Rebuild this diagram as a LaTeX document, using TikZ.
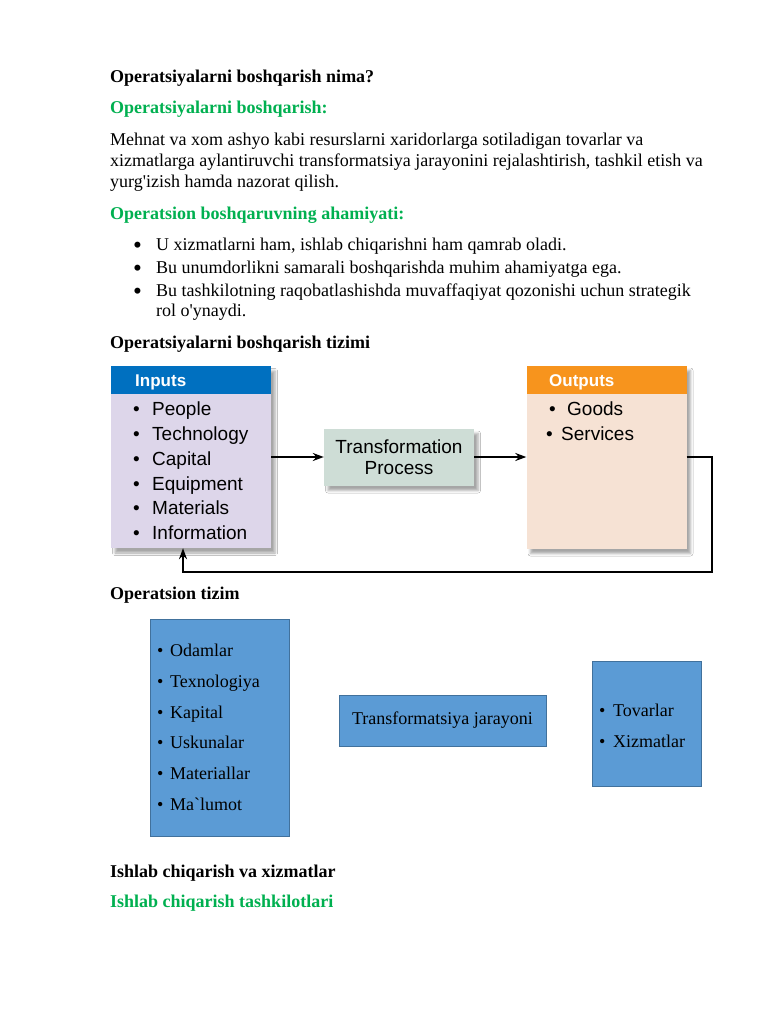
\documentclass[tikz,border=0pt]{standalone}
\usepackage{fontspec}
\usepackage{graphicx}
\setmainfont{Liberation Serif}
\newfontfamily\diagfont{Liberation Sans}
\usetikzlibrary{positioning,shadows.blur,arrows.meta}
\definecolor{headgreen}{HTML}{00B050}
\definecolor{inblue}{RGB}{0,112,192}
\definecolor{inlilac}{RGB}{221,214,234}
\definecolor{procgray}{RGB}{206,221,214}
\definecolor{outorange}{RGB}{247,148,29}
\definecolor{outpeach}{RGB}{246,226,212}
\definecolor{sysblue}{HTML}{5B9BD5}
\definecolor{sysedge}{HTML}{41719C}
\newcommand{\listdot}{\makebox[23pt][l]{\raisebox{-3.5pt}{\scalebox{1.4}{\textbullet}}}}

\begin{document}
\begin{tikzpicture}[
        x=1pt, y=-1pt,
        txt/.style={anchor=base west, inner sep=0pt, font=\fontsize{18}{21}\selectfont},
        head/.style={txt, font=\fontsize{18}{21}\selectfont\bfseries},
        greenhead/.style={head, text=headgreen},
        panel/.style={rectangle, inner sep=0pt, minimum width=160pt, blur shadow={shadow xshift=4pt, shadow yshift=-5pt, shadow blur radius=2.5pt, shadow opacity=35}},
        panelhead/.style={rectangle, inner sep=0pt, minimum width=160pt, minimum height=28pt, anchor=north},
        headtext/.style={anchor=base west, inner sep=0pt, text=white, font=\diagfont\fontsize{17}{20}\selectfont\bfseries},
        item/.style={anchor=base west, inner sep=0pt, font=\diagfont\fontsize{19}{21}\selectfont},
        sysbox/.style={rectangle, inner sep=0pt, fill=sysblue, draw=sysedge, line width=0.8pt},
        sysitem/.style={anchor=base west, inner sep=0pt, font=\fontsize{18}{21}\selectfont},
        arrow/.style={line width=2.2pt, -{Stealth[length=11pt, width=8pt]}}
    ]
        \fill[white] (0,0) rectangle (768,1024);
        \useasboundingbox (0,0) rectangle (768,1024);

        % Text above
        \node (title) [head] at (110,83) {Operatsiyalarni boshqarish nima?};
        \node (defhead) [greenhead] at (110,114) {Operatsiyalarni boshqarish:};
        \node (def1) [txt] at (110,146) {Mehnat va xom ashyo kabi resurslarni xaridorlarga sotiladigan tovarlar va};
        \node (def2) [txt] at (110,167) {xizmatlarga aylantiruvchi transformatsiya jarayonini rejalashtirish, tashkil etish va};
        \node (def3) [txt] at (110,188) {yurg\textquotesingle izish hamda nazorat qilish.};
        \node (sighead) [greenhead] at (110,219) {Operatsion boshqaruvning ahamiyati:};
        \node (sig1) [txt] at (133,250) {\listdot U xizmatlarni ham, ishlab chiqarishni ham qamrab oladi.};
        \node (sig2) [txt] at (133,273) {\listdot Bu unumdorlikni samarali boshqarishda muhim ahamiyatga ega.};
        \node (sig3) [txt] at (133,296) {\listdot Bu tashkilotning raqobatlashishda muvaffaqiyat qozonishi uchun strategik};
        \node (sig4) [txt] at (156,316) {rol o\textquotesingle ynaydi.};
        \node (syshead) [head] at (110,348) {Operatsiyalarni boshqarish tizimi};

        % Inputs
        \node (inbody) [panel, fill=inlilac, minimum height=182pt] at (191,457) {};
        \node (inhead) [panelhead, fill=inblue] at (inbody.north) {};
        \node (intitle) [headtext] at (135,386) {Inputs};
        \node (in1) [item] at (133,415) {\makebox[19pt][l]{\textbullet}People};
        \node (in2) [item] at (133,440) {\makebox[19pt][l]{\textbullet}Technology};
        \node (in3) [item] at (133,465) {\makebox[19pt][l]{\textbullet}Capital};
        \node (in4) [item] at (133,490) {\makebox[19pt][l]{\textbullet}Equipment};
        \node (in5) [item] at (133,514) {\makebox[19pt][l]{\textbullet}Materials};
        \node (in6) [item] at (133,539) {\makebox[19pt][l]{\textbullet}Information};

        % Transformation
        \node (trans) [panel, fill=procgray, minimum width=150pt, minimum height=57pt, align=center, font=\diagfont\fontsize{19}{21}\selectfont] at (399,457) {Transformation\\Process};

        % Outputs
        \node (outbody) [panel, fill=outpeach, minimum height=183pt] at (606.5,457) {};
        \node (outhead) [panelhead, fill=outorange] at (outbody.north) {};
        \node (outtitle) [headtext] at (549,386) {Outputs};
        \node (out1) [item] at (549,415) {\makebox[18pt][l]{\textbullet}Goods};
        \node (out2) [item] at (546,440) {\makebox[15pt][l]{\textbullet}Services};

        % Connections
        \coordinate (fbr) at (712,572);
        \coordinate (fbl) at (183,572);
        \draw[arrow] (inbody.east) -- (trans.west);
        \draw[arrow] (trans.east) -- (outbody.west);
        \draw[arrow] (outbody.east) -| (fbr) -- (fbl) -- (fbl |- inbody.south);

        \node (tizim) [head] at (110,599) {Operatsion tizim};

        % Operatsion tizim
        \node (odam) [sysbox, minimum width=139pt, minimum height=217pt] at (219.5,727.5) {};
        \node (o1) [sysitem] at (157,656) {\makebox[13pt][l]{\textbullet}Odamlar};
        \node (o2) [sysitem] at (157,687) {\makebox[13pt][l]{\textbullet}Texnologiya};
        \node (o3) [sysitem] at (157,718) {\makebox[13pt][l]{\textbullet}Kapital};
        \node (o4) [sysitem] at (157,748) {\makebox[13pt][l]{\textbullet}Uskunalar};
        \node (o5) [sysitem] at (157,779) {\makebox[13pt][l]{\textbullet}Materiallar};
        \node (o6) [sysitem] at (157,810) {\makebox[13pt][l]{\textbullet}Ma\textasciigrave lumot};

        \node (jarayon) [sysbox, minimum width=207pt, minimum height=51pt, font=\fontsize{18}{21}\selectfont] at (442.5,720.5) {Transformatsiya jarayoni};

        \node (tovar) [sysbox, minimum width=109pt, minimum height=125pt] at (646.5,723.5) {};
        \node (t1) [sysitem] at (599,716) {\makebox[14pt][l]{\textbullet}Tovarlar};
        \node (t2) [sysitem] at (599,747) {\makebox[14pt][l]{\textbullet}Xizmatlar};

        % Text below
        \node (ishlab) [head] at (110,877) {Ishlab chiqarish va xizmatlar};
        \node (tashkil) [greenhead] at (110,907) {Ishlab chiqarish tashkilotlari};
    \end{tikzpicture}
\end{document}
